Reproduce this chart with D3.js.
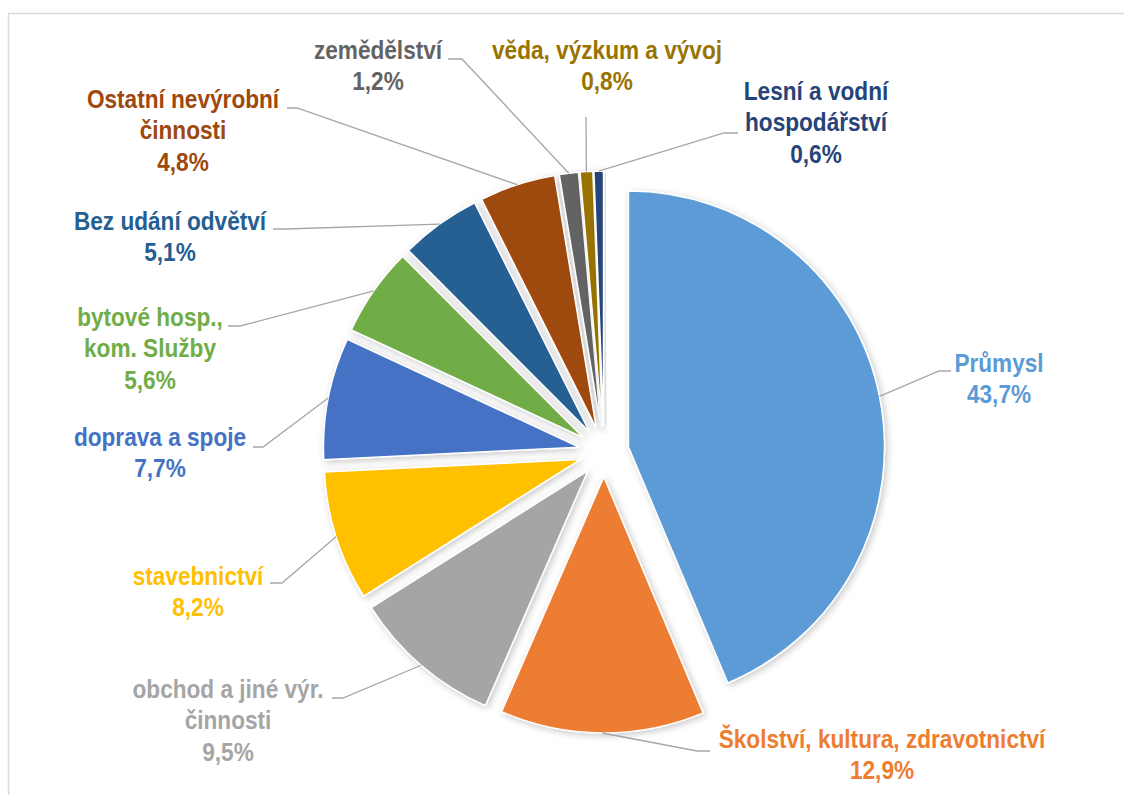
<!DOCTYPE html>
<html>
<head>
<meta charset="utf-8">
<script src="https://cdn.jsdelivr.net/npm/d3@7"></script>
<style>
  html, body { margin: 0; padding: 0; background: #fff; }
  svg { display: block; }
  .lbl { font-family: "Liberation Sans", Arial, sans-serif; font-weight: 700; font-size: 26px; }
</style>
</head>
<body>
<div id="chart"></div>
<script>
// Sector shares (%), clockwise from 12 o'clock
const sectors = [
  'Průmysl', 'Školství, kultura, zdravotnictví', 'obchod a jiné výr. činnosti',
  'stavebnictví', 'doprava a spoje', 'bytové hosp., kom. Služby',
  'Bez udání odvětví', 'Ostatní nevýrobní činnosti', 'zemědělství',
  'věda, výzkum a vývoj', 'Lesní a vodní hospodářství'
];
const shares = [43.7, 12.9, 9.5, 8.2, 7.7, 5.6, 5.1, 4.8, 1.2, 0.8, 0.6];
// how each category label wraps (as in the original)
const labelLines = [
  ['Průmysl'], ['Školství, kultura, zdravotnictví'], ['obchod a jiné výr.', 'činnosti'],
  ['stavebnictví'], ['doprava a spoje'], ['bytové hosp.,', 'kom. Služby'],
  ['Bez udání odvětví'], ['Ostatní nevýrobní', 'činnosti'], ['zemědělství'],
  ['věda, výzkum a vývoj'], ['Lesní a vodní', 'hospodářství']
];
const colors = ['#5B9BD5', '#ED7D31', '#A5A5A5', '#FFC000', '#4472C4', '#70AD47',
                '#255E91', '#9E480E', '#636363', '#997300', '#264478'];

// label placement (layout only): text centre x, first baseline y, leader elbow + end
const labelLayout = [
  { x: 999, y: 372, elbow: [939, 371], end: [951, 371] },
  { x: 882, y: 748, elbow: [697, 751], end: [710, 751] },
  { x: 228, y: 698, elbow: [343, 698], end: [332, 698] },
  { x: 198, y: 585, elbow: [282, 583], end: [270, 583] },
  { x: 160, y: 446, elbow: [263, 447], end: [253, 447] },
  { x: 150, y: 326, elbow: [240, 326], end: [228, 326] },
  { x: 170, y: 230, elbow: [285, 229], end: [273, 229] },
  { x: 183, y: 108, elbow: [297, 108], end: [287, 108] },
  { x: 378, y: 59,  elbow: [462, 59],  end: [448, 59] },
  { x: 607, y: 59,  elbow: [586, 117], end: [586, 117] },
  { x: 816, y: 100, elbow: [724, 133], end: [738, 133] }
];

const W = 1124, H = 795;
const cx = 604, cy = 452, radius = 256, explode = 25, lineGap = 31.5;
const squeeze = 0.87; // Calibri is narrower than the fallback font

const svg = d3.select('#chart').append('svg')
  .attr('width', W).attr('height', H);

// chart frame (only top/left edges visible in the crop)
svg.append('rect')
  .attr('x', 8.5).attr('y', 13.5)
  .attr('width', W + 20).attr('height', H + 20)
  .attr('fill', '#fff').attr('stroke', '#D9D9D9').attr('stroke-width', 1.5);

const defs = svg.append('defs');
const f = defs.append('filter').attr('id', 'shadow')
  .attr('x', '-20%').attr('y', '-20%').attr('width', '140%').attr('height', '140%');
f.append('feDropShadow')
  .attr('dx', 2).attr('dy', 2).attr('stdDeviation', 3.5)
  .attr('flood-color', '#000').attr('flood-opacity', 0.22);

const data = sectors.map((s, i) => ({ sector: s, share: shares[i], lines: labelLines[i], color: colors[i], layout: labelLayout[i] }));

const pie = d3.pie().sort(null).value(d => d.share);
const arcs = pie(data);
const arc = d3.arc().innerRadius(0).outerRadius(radius);

const offset = a => {
  const mid = (a.startAngle + a.endAngle) / 2;
  return [explode * Math.sin(mid), -explode * Math.cos(mid)];
};

const g = svg.append('g').attr('transform', `translate(${cx},${cy})`);

g.selectAll('path.slice').data(arcs).join('path')
  .attr('class', 'slice')
  .attr('transform', d => `translate(${offset(d)})`)
  .attr('d', arc)
  .attr('fill', d => d.data.color)
  .attr('stroke', '#fff').attr('stroke-width', 1.5)
  .attr('filter', 'url(#shadow)');

// leader lines from the exploded arc midpoint to the label
const fmt = v => v.toFixed(1).replace('.', ',') + '%';
arcs.forEach(a => {
  const mid = (a.startAngle + a.endAngle) / 2;
  const [ox, oy] = offset(a);
  const sx = cx + ox + radius * Math.sin(mid);
  const sy = cy + oy - radius * Math.cos(mid);
  const L = a.data.layout;
  svg.append('polyline')
    .attr('points', [[sx, sy], L.elbow, L.end].map(p => p.join(',')).join(' '))
    .attr('fill', 'none').attr('stroke', '#A6A6A6').attr('stroke-width', 1.3);

  const lines = a.data.lines.concat([fmt(a.data.share)]);
  const t = svg.append('text').attr('class', 'lbl')
    .attr('transform', `translate(${L.x},${L.y}) scale(${squeeze},1)`)
    .attr('text-anchor', 'middle').attr('fill', a.data.color);
  lines.forEach((ln, i) => {
    t.append('tspan').attr('x', 0).attr('y', i * lineGap).text(ln);
  });
});
</script>
</body>
</html>
